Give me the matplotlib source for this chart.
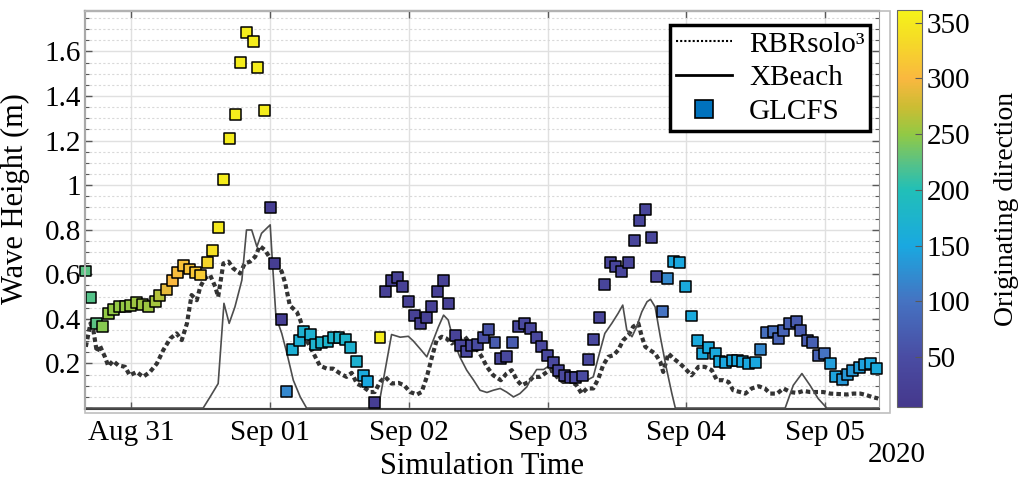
import numpy as np
import pandas as pd
import matplotlib
matplotlib.use('Agg')
import matplotlib.pyplot as plt
import matplotlib.dates as mdates
from matplotlib.colors import LinearSegmentedColormap
from matplotlib.lines import Line2D
from matplotlib.patches import Rectangle
from matplotlib.ticker import MultipleLocator, FuncFormatter

plt.rcParams['font.family'] = ['Liberation Serif', 'DejaVu Serif']

t0 = pd.Timestamp('2020-08-31 00:00')

# RBRsolo3 measured wave height (hours after Aug 31 00:00, metres)
rbr_hours = [-7.9, -7.1, -6.6, -6.0, -5.5, -4.6, -4.0, -3.2, -2.3, -1.1, -0.3, 0.9, 2.0, 3.2, 4.4,
             5.5, 6.7, 7.8, 8.7, 9.6, 10.4, 11.3, 11.9, 12.7, 13.6, 14.5, 15.0, 15.9, 16.8, 17.6,
             18.8, 19.6, 20.5, 21.4, 22.2, 23.1, 24.0, 25.1, 26.0, 26.6, 27.4, 28.6, 29.2, 30.3,
             31.5, 32.6, 33.8, 34.9, 36.1, 37.2, 38.1, 39.0, 40.1, 41.3, 42.1, 43.0, 43.9, 45.0,
             46.2, 47.2, 48.2, 49.4, 50.2, 51.1, 52.0, 52.8, 53.7, 54.5, 55.4, 56.6, 57.7, 58.6,
             59.7, 60.6, 61.5, 62.6, 63.9, 64.9, 65.8, 66.7, 67.5, 68.7, 69.5, 70.7, 71.9, 72.7,
             73.6, 74.7, 75.9, 77.0, 77.9, 78.8, 79.9, 80.8, 81.6, 82.5, 83.4, 84.2, 85.1, 86.0,
             86.8, 87.7, 88.3, 88.9, 89.7, 90.6, 91.5, 92.0, 92.9, 93.8, 94.9, 95.8, 96.9, 98.1,
             99.2, 100.4, 101.3, 102.4, 103.3, 104.1, 105.3, 106.2, 107.3, 108.5, 109.6, 110.5,
             111.7, 112.8, 114.0, 115.1, 116.3, 117.4, 118.6, 119.7, 120.9, 123.8, 124.9, 126.1,
             127.2, 128.1, 129.2]
rbr_height = [0.275, 0.380, 0.350, 0.252, 0.282, 0.230, 0.188, 0.212, 0.192, 0.185, 0.147, 0.162,
              0.140, 0.162, 0.200, 0.260, 0.312, 0.335, 0.305, 0.380, 0.507, 0.484, 0.544, 0.582,
              0.597, 0.544, 0.499, 0.649, 0.657, 0.627, 0.604, 0.649, 0.657, 0.679, 0.727, 0.709,
              0.672, 0.649, 0.612, 0.560, 0.460, 0.432, 0.395, 0.305, 0.245, 0.190, 0.177, 0.177,
              0.155, 0.140, 0.158, 0.110, 0.095, 0.072, 0.072, 0.117, 0.140, 0.110, 0.113, 0.102,
              0.072, 0.061, 0.072, 0.140, 0.230, 0.305, 0.320, 0.312, 0.290, 0.312, 0.320, 0.290,
              0.267, 0.230, 0.185, 0.147, 0.125, 0.155, 0.170, 0.125, 0.102, 0.117, 0.140, 0.140,
              0.162, 0.170, 0.140, 0.117, 0.125, 0.102, 0.065, 0.088, 0.088, 0.133, 0.192, 0.230,
              0.237, 0.260, 0.305, 0.327, 0.365, 0.380, 0.320, 0.275, 0.260, 0.245, 0.207, 0.162,
              0.245, 0.222, 0.200, 0.177, 0.147, 0.185, 0.185, 0.170, 0.125, 0.125, 0.117, 0.080,
              0.072, 0.065, 0.088, 0.098, 0.088, 0.065, 0.065, 0.088, 0.072, 0.068, 0.077, 0.072,
              0.072, 0.072, 0.065, 0.061, 0.065, 0.065, 0.058, 0.050, 0.043]

# XBeach modelled wave height
xb_hours = [-8.0, 12.4, 13.6, 15.0, 16.0, 16.9, 17.9, 19.1, 19.9, 20.8, 21.7, 22.5, 24.0, 24.4,
            25.0, 26.0, 26.9, 28.0, 29.2, 30.3, 42.7, 45.0, 46.5, 47.9, 48.8, 49.9, 51.1, 52.0,
            53.1, 54.0, 54.8, 55.7, 56.8, 58.0, 59.2, 60.3, 61.5, 62.6, 63.8, 64.9, 66.1, 67.2,
            68.4, 69.3, 70.1, 71.3, 72.4, 73.0, 74.4, 75.9, 77.6, 78.8, 79.9, 80.8, 81.9, 83.1,
            84.2, 85.0, 85.7, 86.6, 87.4, 88.3, 89.2, 89.8, 90.6, 91.5, 92.5, 93.5, 94.1, 113.1,
            114.5, 116.0, 117.4, 118.8, 120.3, 129.3]
xb_height = [0.0, 0.0, 0.050, 0.110, 0.470, 0.380, 0.454, 0.574, 0.799, 0.799, 0.724, 0.784,
             0.822, 0.649, 0.409, 0.335, 0.245, 0.125, 0.050, 0.0, 0.0, 0.330, 0.318, 0.322,
             0.300, 0.267, 0.230, 0.290, 0.364, 0.417, 0.395, 0.305, 0.230, 0.170, 0.125, 0.080,
             0.070, 0.080, 0.088, 0.072, 0.050, 0.065, 0.095, 0.140, 0.173, 0.173, 0.192, 0.155,
             0.155, 0.140, 0.125, 0.125, 0.140, 0.230, 0.335, 0.380, 0.425, 0.462, 0.350, 0.320,
             0.365, 0.432, 0.477, 0.488, 0.454, 0.320, 0.185, 0.065, 0.0, 0.0, 0.102, 0.155,
             0.102, 0.043, 0.0, 0.0]

# GLCFS wave height and originating direction (deg)
gl_hours = [-8.0, -7.0, -6.1, -5.0, -3.9, -3.1, -2.0, -1.1, -0.1, 0.9, 1.9, 2.9, 4.1, 4.9, 6.0,
            7.1, 7.9, 9.0, 10.0, 11.0, 12.0, 13.1, 14.0, 15.0, 15.9, 16.9, 18.0, 18.9, 19.9,
            21.1, 21.8, 23.0, 24.0, 24.8, 25.9, 26.9, 27.9, 29.0, 29.8, 31.0, 31.9, 32.9, 34.0,
            34.9, 35.9, 37.1, 37.9, 39.0, 40.1, 40.9, 42.0, 43.0, 43.9, 45.0, 46.0, 46.9, 48.0,
            48.9, 50.0, 51.0, 51.9, 52.9, 54.0, 54.9, 56.0, 57.0, 57.9, 58.9, 59.8, 60.9, 61.8,
            62.9, 63.9, 64.9, 65.9, 66.9, 68.0, 69.0, 70.0, 70.9, 71.9, 73.0, 73.9, 75.0, 75.9,
            76.9, 78.0, 79.0, 79.9, 80.9, 81.8, 82.8, 83.8, 84.8, 86.0, 87.0, 87.9, 88.9, 89.9,
            90.9, 91.9, 92.8, 93.8, 94.9, 95.9, 96.9, 98.0, 98.8, 99.9, 101.0, 101.8, 102.8,
            103.9, 104.8, 105.8, 106.7, 107.9, 108.9, 109.8, 111.0, 111.9, 112.8, 113.9, 115.0,
            115.8, 116.9, 117.8, 118.8, 119.9, 120.9, 121.8, 123.0, 123.9, 124.8, 125.9, 126.8,
            127.9, 128.9]
gl_height = [0.615, 0.498, 0.380, 0.368, 0.425, 0.444, 0.457, 0.457, 0.462, 0.472, 0.466, 0.457,
             0.477, 0.504, 0.532, 0.574, 0.607, 0.639, 0.624, 0.609, 0.597, 0.652, 0.706, 0.811,
             1.027, 1.211, 1.317, 1.551, 1.683, 1.645, 1.530, 1.335, 0.901, 0.649, 0.398, 0.076,
             0.263, 0.305, 0.345, 0.332, 0.287, 0.293, 0.300, 0.315, 0.315, 0.308, 0.270, 0.207,
             0.147, 0.120, 0.027, 0.318, 0.524, 0.574, 0.586, 0.547, 0.477, 0.417, 0.380, 0.407,
             0.454, 0.525, 0.574, 0.470, 0.327, 0.279, 0.252, 0.279, 0.287, 0.317, 0.353, 0.293,
             0.222, 0.233, 0.293, 0.368, 0.380, 0.357, 0.315, 0.275, 0.237, 0.203, 0.167, 0.147,
             0.137, 0.137, 0.144, 0.218, 0.309, 0.405, 0.555, 0.652, 0.634, 0.612, 0.652, 0.750,
             0.841, 0.892, 0.766, 0.592, 0.435, 0.582, 0.657, 0.652, 0.544, 0.413, 0.305, 0.245,
             0.270, 0.245, 0.207, 0.203, 0.215, 0.215, 0.207, 0.200, 0.204, 0.263, 0.339, 0.345,
             0.312, 0.347, 0.380, 0.390, 0.350, 0.305, 0.294, 0.237, 0.245, 0.200, 0.140, 0.128,
             0.150, 0.167, 0.182, 0.197, 0.200, 0.178]
gl_dir = [225, 222, 225, 245, 250, 250, 250, 250, 252, 255, 255, 255, 258, 265, 290, 300, 305,
          310, 310, 315, 318, 330, 340, 350, 355, 355, 355, 355, 355, 355, 355, 355, 20, 20, 20,
          120, 165, 165, 170, 170, 175, 175, 175, 175, 175, 175, 170, 170, 155, 150, 20, 355, 25,
          25, 25, 25, 25, 25, 25, 25, 25, 25, 25, 25, 30, 35, 40, 40, 45, 55, 60, 70, 40, 40, 70,
          40, 40, 40, 40, 40, 40, 40, 40, 40, 40, 40, 45, 40, 40, 35, 35, 35, 35, 35, 35, 35, 35,
          35, 35, 35, 100, 120, 150, 150, 155, 155, 155, 155, 155, 155, 155, 150, 150, 150,
          150, 150, 150, 120, 95, 95, 80, 80, 75, 70, 70, 70, 75, 80, 100, 140, 145, 135, 135, 135,
          140, 145, 150, 155]

# washed-out parula-like colormap
cmap = LinearSegmentedColormap.from_list('parula_like', [
    (0.000, (0.27, 0.22, 0.55)),
    (0.126, (0.29, 0.30, 0.64)),
    (0.267, (0.27, 0.45, 0.76)),
    (0.407, (0.10, 0.66, 0.88)),
    (0.548, (0.13, 0.75, 0.72)),
    (0.618, (0.35, 0.76, 0.52)),
    (0.688, (0.57, 0.79, 0.27)),
    (0.758, (0.80, 0.74, 0.20)),
    (0.829, (0.98, 0.72, 0.25)),
    (0.927, (0.96, 0.86, 0.15)),
    (1.000, (0.96, 0.95, 0.10)),
])

def to_time(hours):
    return (t0 + pd.to_timedelta(np.array(hours), unit='h')).to_numpy()

fig = plt.figure(figsize=(10.26, 4.93), dpi=100)
ax = fig.add_axes([0.0828, 0.170, 0.774, 0.807])
cax = fig.add_axes([0.874, 0.174, 0.0244, 0.805])

# outer light frame
fig.patches.append(Rectangle((0.0828, 0.163), 0.785, 0.814, transform=fig.transFigure,
                             fill=False, edgecolor='0.75', lw=1.2, zorder=0))

ax.plot(to_time(rbr_hours), rbr_height, color='0.2', lw=3.0, dashes=(1.1, 0.75), zorder=2)
ax.plot(to_time(xb_hours), xb_height, color='0.3', lw=1.2, zorder=3)
sc = ax.scatter(to_time(gl_hours), gl_height, c=gl_dir, cmap=cmap, vmin=5, vmax=361,
                marker='s', s=62, edgecolors='k', linewidths=1.1, zorder=4, clip_on=False)

ax.set_xlim(to_time([-8.05])[0], to_time([129.35])[0])
ax.set_ylim(-0.005, 1.78)

ax.xaxis.set_major_locator(mdates.DayLocator())
ax.xaxis.set_major_formatter(mdates.DateFormatter('%b %d'))
ax.yaxis.set_major_locator(MultipleLocator(0.2))
ax.yaxis.set_minor_locator(MultipleLocator(0.05))
ax.yaxis.set_major_formatter(FuncFormatter(lambda v, p: '' if v < 0.1 else '{:g}'.format(round(v, 2))))

ax.grid(which='major', axis='both', color='0.88', lw=1.0)
ax.grid(which='minor', axis='y', color='0.85', lw=0.8, linestyle=(0, (2, 2)))
ax.set_axisbelow(True)

ax.tick_params(which='both', direction='in', top=True, right=True, labelsize=21, colors='0.35',
               labelcolor='k')
ax.tick_params(which='major', length=5, width=1.0)
ax.tick_params(which='minor', length=3, width=0.8)
ax.tick_params(axis='x', pad=8)
ax.tick_params(axis='y', pad=3)

for side in ['left', 'bottom']:
    ax.spines[side].set_color('0.25')
    ax.spines[side].set_linewidth(1.5)
ax.spines['top'].set_color('0.45')
ax.spines['top'].set_linewidth(1.6)
ax.spines['right'].set_color('0.6')

ax.set_xlabel('Simulation Time', fontsize=22, labelpad=4)
ax.set_ylabel('Wave Height (m)', fontsize=22)
ax.yaxis.set_label_coords(-0.069, 0.53)

fig.text(0.874, 0.077, '2020', fontsize=21, ha='center', va='center')

handles = [
    Line2D([], [], color='k', lw=1.5, linestyle=(0, (1, 1))),
    Line2D([], [], color='k', lw=2.0),
    Line2D([], [], color=(0.0, 0.447, 0.741), marker='s', markersize=13, linestyle='none',
           markeredgecolor='k', markeredgewidth=1.2),
]
leg = ax.legend(handles, ['RBRsolo\u00b3', 'XBeach', 'GLCFS'], loc='upper right',
                bbox_to_anchor=(0.989, 0.965), fontsize=21, fancybox=False, framealpha=1,
                edgecolor='k', handlelength=1.9, handletextpad=0.6, borderpad=0.2,
                labelspacing=0.25, borderaxespad=0)
leg.get_frame().set_linewidth(2.5)

cb = fig.colorbar(sc, cax=cax)
cb.set_ticks([50, 100, 150, 200, 250, 300, 350])
cb.ax.tick_params(labelsize=21, direction='in', length=5, colors='0.35', labelcolor='k')
cb.outline.set_edgecolor('0.4')
cb.set_label('Originating direction', fontsize=20)
cb.ax.yaxis.set_label_coords(3.9, 0.50)

fig.savefig('out.png', dpi=100)
